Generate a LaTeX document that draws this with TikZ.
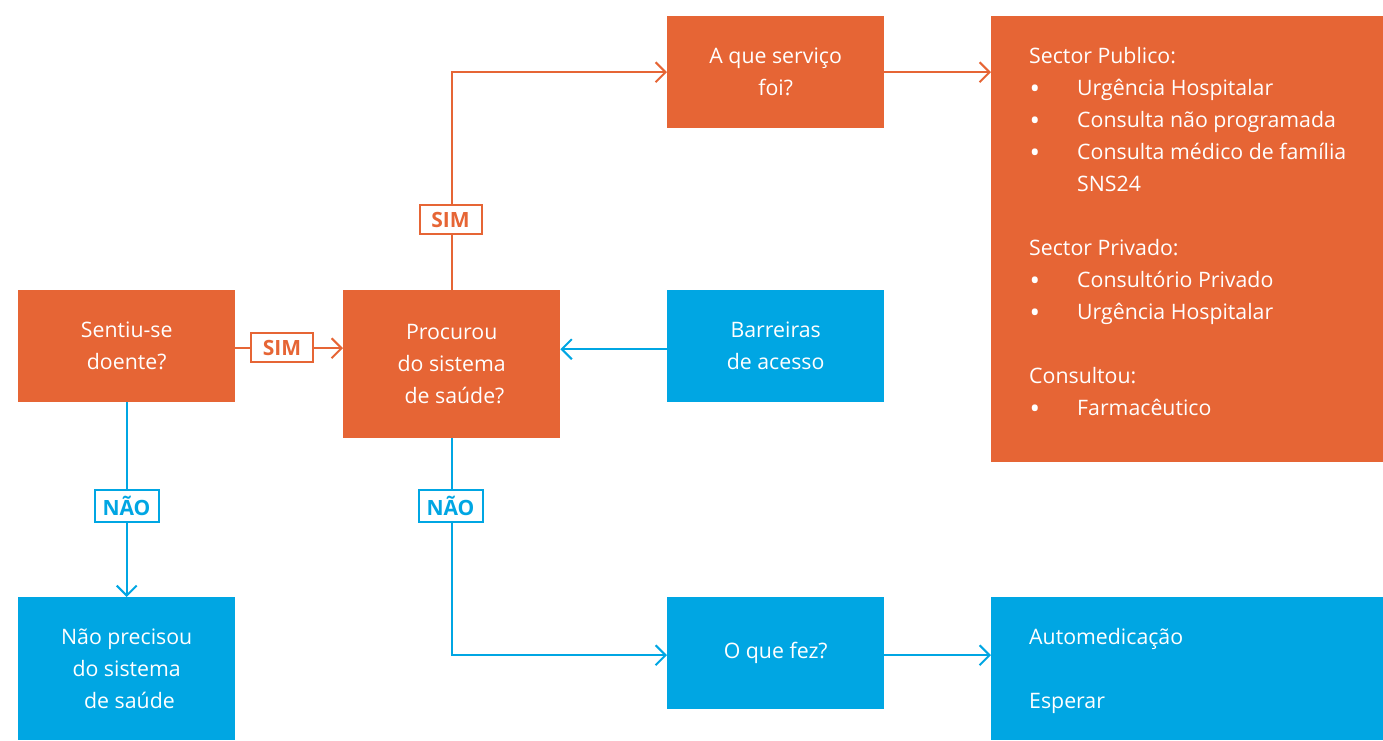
\documentclass[tikz,border=0pt]{standalone}
\usepackage{fontspec}
\setmainfont{Open Sans}
\usetikzlibrary{arrows.meta}
\definecolor{orng}{RGB}{230,101,53}
\definecolor{blu}{RGB}{0,166,227}
\begin{document}
\begin{tikzpicture}[x=1pt,y=-1pt,
  box/.style={fill=#1, text=white, inner sep=0pt, anchor=north west,
    font=\fontsize{21.3}{32}\selectfont, align=center},
  txt/.style={text=white, inner sep=0pt, anchor=north west,
    font=\fontsize{21.3}{32}\selectfont, align=left},
  conn/.style={draw=#1, line width=2pt, -{Straight Barb[length=10pt,width=20pt,line width=2pt]}},
  lab/.style={draw=#1, text=#1, fill=white, line width=2pt, inner sep=0pt,
    font=\fontsize{21}{22}\bfseries\selectfont, minimum height=29pt}]
\useasboundingbox (0,0) rectangle (1383,740);
\newcommand{\bul}{\makebox[48pt][l]{\hspace{0.5pt}\smash{\fontsize{28}{32}\selectfont\raisebox{-3pt}{•}}}}
% boxes
\node[box=orng, minimum width=217pt, minimum height=112pt] (sentiu) at (18,290) {Sentiu-se\\doente?};
\node[box=orng, minimum width=217pt, minimum height=148pt] (procurou) at (343,290) {Procurou\\do sistema\\\ de saúde?};
\node[box=orng, minimum width=217pt, minimum height=112pt] (aque) at (667,16) {A que serviço\\foi?};
\node[box=orng, minimum width=392pt, minimum height=446pt] (pub) at (991,16) {};
\node[box=blu, minimum width=217pt, minimum height=112pt] (barr) at (667,290) {Barreiras\\de acesso};
\node[box=blu, minimum width=217pt, minimum height=112pt] (oque) at (667,597) {O que fez?};
\node[box=blu, minimum width=392pt, minimum height=143pt] (auto) at (991,597) {};
\node[box=blu, minimum width=217pt, minimum height=143pt] (naoprec) at (18,597) {Não precisou\\do sistema\\\ de saúde};
% texts in the wide boxes
\node[txt] (pubtxt) at (1029,47) {Sector Publico:\\
\bul Urgência Hospitalar\\
\bul Consulta não programada\\
\bul Consulta médico de família\\
\hspace*{48pt}SNS24\\[32pt]
Sector Privado:\\
\bul Consultório Privado\\
\bul Urgência Hospitalar\\[32pt]
Consultou:\\
\bul Farmacêutico};
\node[txt] (autotxt) at (1029,628) {Automedicação\\[32pt]Esperar};
% connectors
\draw[conn=orng] ([yshift=-2pt]sentiu.east) -- ([yshift=-2pt]sentiu.east -| procurou.west);
\draw[conn=orng] (procurou.north) |- (aque.west);
\draw[conn=orng] (aque.east) -- (aque.east -| pub.west);
\draw[conn=blu] ([yshift=-3pt]barr.west) -- ([yshift=-3pt]barr.west -| procurou.east);
\draw[conn=blu] (sentiu.south) -- (naoprec.north);
\draw[conn=blu] (procurou.south) |- ([yshift=-2pt]oque.west);
\draw[conn=blu] ([yshift=-2pt]oque.east) -- ([yshift=-2pt]oque.east -| auto.west);
% labels
\node[lab=orng, minimum width=62pt] (sim1) at (282,347.5) {SIM};
\node[lab=orng, minimum width=62pt] (sim2) at (450.5,219.5) {SIM};
\node[lab=blu, minimum width=64pt, minimum height=32pt] (nao1) at (126.5,506) {NÃO};
\node[lab=blu, minimum width=64pt, minimum height=32pt] (nao2) at (450.5,506) {NÃO};
\end{tikzpicture}
\end{document}
